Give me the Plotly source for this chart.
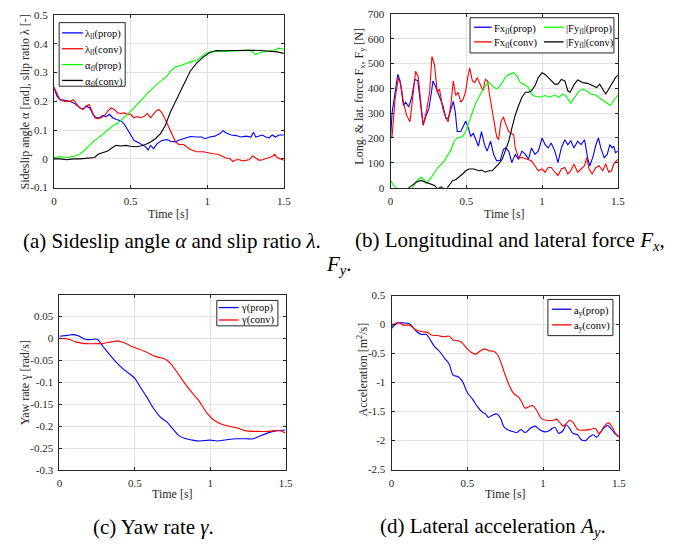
import plotly.graph_objects as go

W, H = 683, 549
FONT = "Liberation Serif, Times New Roman, Times, serif"
INK = "#262626"
GRID = "#e2e2e2"

# ---------------- (a) slip ratio / sideslip angle ----------------
t_lam_prop = [0, 0.019, 0.04, 0.073, 0.105, 0.137, 0.17, 0.19, 0.212, 0.234, 0.255, 0.276, 0.298, 0.32, 0.34,
              0.362, 0.384, 0.405, 0.437, 0.459, 0.48, 0.5, 0.523, 0.544, 0.566, 0.598, 0.615, 0.63, 0.651, 0.673,
              0.705, 0.737, 0.76, 0.792, 0.814, 0.846, 0.889, 0.931, 0.964, 0.985, 1.017, 1.049, 1.081, 1.103,
              1.124, 1.157, 1.189, 1.221, 1.253, 1.285, 1.302, 1.317, 1.339, 1.36, 1.381, 1.403, 1.424, 1.446,
              1.467, 1.5]
lam_prop = [0.249, 0.219, 0.206, 0.203, 0.2, 0.192, 0.177, 0.174, 0.183, 0.177, 0.155, 0.143, 0.143, 0.151, 0.147,
            0.155, 0.143, 0.138, 0.132, 0.121, 0.102, 0.081, 0.064, 0.059, 0.053, 0.042, 0.031, 0.047, 0.036, 0.053,
            0.064, 0.067, 0.061, 0.059, 0.065, 0.07, 0.078, 0.076, 0.076, 0.07, 0.076, 0.079, 0.087, 0.098,
            0.09, 0.083, 0.081, 0.076, 0.079, 0.076, 0.093, 0.076, 0.081, 0.083, 0.076, 0.073, 0.083, 0.076,
            0.083, 0.083]

t_lam_conv = [0, 0.019, 0.04, 0.073, 0.105, 0.126, 0.148, 0.17, 0.19, 0.212, 0.23, 0.244, 0.266, 0.287, 0.309,
              0.33, 0.351, 0.373, 0.394, 0.416, 0.437, 0.459, 0.48, 0.5, 0.523, 0.544, 0.566, 0.587, 0.609, 0.63,
              0.651, 0.666, 0.684, 0.705, 0.728, 0.76, 0.792, 0.814, 0.846, 0.889, 0.931, 0.974, 1.007, 1.039,
              1.071, 1.103, 1.124, 1.146, 1.167, 1.189, 1.21, 1.232, 1.253, 1.274, 1.296, 1.317, 1.339, 1.36,
              1.381, 1.403, 1.424, 1.439, 1.456, 1.478, 1.5]
lam_conv = [0.249, 0.228, 0.206, 0.2, 0.2, 0.206, 0.192, 0.177, 0.172, 0.185, 0.189, 0.172, 0.143, 0.14, 0.143,
            0.151, 0.166, 0.177, 0.172, 0.16, 0.158, 0.16, 0.155, 0.155, 0.143, 0.147, 0.143, 0.147, 0.158, 0.143,
            0.155, 0.166, 0.172, 0.16, 0.135, 0.095, 0.061, 0.05, 0.05, 0.033, 0.025, 0.025, 0.021, 0.018,
            0.016, 0.008, 0.002, 0.002, -0.009, -0.003, -0.003, -0.007, -0.005, -0.003, 0.01, 0.002, -0.005, -0.003,
            0.0, 0.005, 0.008, 0.016, 0.005, 0.0, -0.005]

t_alpha_prop = [0, 0.04, 0.084, 0.126, 0.159, 0.19, 0.223, 0.255, 0.287, 0.32, 0.351, 0.384, 0.416, 0.448, 0.48,
                0.512, 0.544, 0.576, 0.609, 0.64, 0.673, 0.705, 0.737, 0.76, 0.792, 0.824, 0.857, 0.9, 0.931,
                0.964, 0.996, 1.028, 1.06, 1.103, 1.146, 1.189, 1.232, 1.274, 1.296, 1.317, 1.339, 1.371, 1.403,
                1.435, 1.467, 1.5]
alpha_prop = [0.005, 0.008, 0.005, 0.008, 0.014, 0.025, 0.042, 0.059, 0.072, 0.087, 0.102, 0.115, 0.124, 0.138,
              0.155, 0.172, 0.189, 0.208, 0.228, 0.245, 0.26, 0.274, 0.287, 0.304, 0.32, 0.324, 0.331, 0.339,
              0.342, 0.356, 0.368, 0.372, 0.374, 0.374, 0.375, 0.374, 0.376, 0.378, 0.373, 0.362, 0.37, 0.372,
              0.375, 0.377, 0.385, 0.381]

t_alpha_conv = [0, 0.04, 0.084, 0.126, 0.17, 0.212, 0.244, 0.266, 0.287, 0.32, 0.351, 0.373, 0.405, 0.437, 0.469,
                0.5, 0.533, 0.566, 0.598, 0.63, 0.662, 0.694, 0.726, 0.76, 0.792, 0.824, 0.857, 0.889, 0.931,
                0.974, 1.017, 1.06, 1.103, 1.157, 1.221, 1.285, 1.35, 1.403, 1.456, 1.5]
alpha_conv = [0.0, 0.0, -0.003, 0.0, 0.0, 0.002, 0.002, 0.005, 0.016, 0.023, 0.027, 0.036, 0.047, 0.045, 0.047,
              0.044, 0.042, 0.045, 0.05, 0.059, 0.07, 0.087, 0.115, 0.163, 0.197, 0.234, 0.271, 0.305, 0.333,
              0.354, 0.37, 0.377, 0.376, 0.377, 0.377, 0.378, 0.377, 0.375, 0.372, 0.367]

# ---------------- (b) longitudinal / lateral force ----------------
t_fx_prop = [0, 0.01, 0.03, 0.048, 0.063, 0.085, 0.1, 0.12, 0.14, 0.16, 0.18, 0.2, 0.215, 0.236, 0.253, 0.27,
             0.28, 0.3, 0.32, 0.345, 0.366, 0.38, 0.4, 0.414, 0.427, 0.44, 0.464, 0.485, 0.496, 0.51, 0.53, 0.546,
             0.56, 0.58, 0.6, 0.62, 0.637, 0.66, 0.68, 0.7, 0.724, 0.745, 0.758, 0.78, 0.8, 0.823, 0.845, 0.867,
             0.89, 0.91, 0.93, 0.953, 0.975, 1.0, 1.02, 1.04, 1.06, 1.084, 1.105, 1.127, 1.15, 1.17, 1.19, 1.21,
             1.235, 1.257, 1.28, 1.3, 1.315, 1.337, 1.355, 1.372, 1.387, 1.41, 1.43, 1.447, 1.462, 1.473, 1.484,
             1.5]
fx_prop = [200, 300, 384, 456, 430, 331, 344, 325, 364, 436, 430, 331, 252, 292, 318, 384,
           430, 403, 371, 331, 279, 279, 318, 347, 305, 226, 226, 252, 268, 246, 206, 219,
           200, 167, 226, 173, 147, 187, 134, 108, 110, 154, 160, 147, 101, 134, 114, 147,
           134, 114, 160, 134, 147, 200, 173, 160, 180, 147, 101, 160, 193, 173, 189, 160,
           187, 173, 193, 121, 88, 127, 173, 200, 160, 121, 134, 173, 160, 167, 141,
           147]

t_fx_conv = [0, 0.01, 0.03, 0.052, 0.07, 0.085, 0.106, 0.128, 0.143, 0.165, 0.182, 0.2, 0.215, 0.236, 0.258,
             0.273, 0.29, 0.308, 0.323, 0.345, 0.366, 0.38, 0.4, 0.414, 0.43, 0.446, 0.464, 0.48, 0.496, 0.507,
             0.522, 0.54, 0.555, 0.572, 0.594, 0.61, 0.626, 0.64, 0.654, 0.67, 0.685, 0.7, 0.713, 0.728, 0.745,
             0.758, 0.78, 0.795, 0.813, 0.823, 0.845, 0.867, 0.9, 0.93, 0.953, 0.975, 1.0, 1.02, 1.04, 1.06,
             1.084, 1.105, 1.127, 1.15, 1.17, 1.19, 1.21, 1.235, 1.257, 1.28, 1.294, 1.31, 1.33, 1.355, 1.376,
             1.4, 1.42, 1.44, 1.458, 1.473, 1.49, 1.5]
fx_conv = [200, 206, 357, 443, 410, 344, 292, 265, 344, 469, 449, 331, 252, 305, 384,
           528, 495, 384, 397, 318, 279, 265, 344, 430, 371, 384, 344, 357, 390, 436,
           482, 430, 423, 443, 410, 390, 436, 430, 371, 318, 252, 206, 193, 265, 285,
           259, 226, 219, 213, 160, 121, 121, 114, 108, 88, 68, 75, 62, 81, 81,
           62, 49, 75, 81, 55, 68, 95, 62, 75, 88, 121, 75, 55, 81, 88,
           68, 95, 62, 68, 95, 108, 114]

t_fy_prop = [0, 0.02, 0.035, 0.06, 0.1, 0.13, 0.15, 0.17, 0.2, 0.22, 0.236, 0.27, 0.312, 0.355, 0.4, 0.42, 0.44,
             0.475, 0.496, 0.518, 0.54, 0.56, 0.594, 0.626, 0.648, 0.67, 0.7, 0.724, 0.756, 0.78, 0.813, 0.834,
             0.856, 0.878, 0.91, 0.93, 0.953, 0.986, 1.02, 1.05, 1.083, 1.11, 1.138, 1.16, 1.187, 1.213, 1.246,
             1.268, 1.294, 1.322, 1.355, 1.387, 1.42, 1.452, 1.473, 1.5]
fy_prop = [29, 9, 0, -15, -20, -10, 3, 26, 42, 32, 16, 42, 81, 108, 154, 187, 200,
           206, 226, 265, 305, 338, 377, 410, 426, 410, 397, 410, 443, 456, 463, 449,
           423, 417, 403, 377, 368, 364, 371, 364, 373, 364, 377, 368, 340, 364, 390,
           397, 390, 377, 373, 357, 344, 331, 351, 373]

t_fy_conv = [0, 0.05, 0.1, 0.128, 0.17, 0.2, 0.236, 0.27, 0.29, 0.31, 0.334, 0.366, 0.388, 0.41, 0.43, 0.453,
             0.475, 0.496, 0.518, 0.55, 0.583, 0.6, 0.626, 0.648, 0.67, 0.69, 0.713, 0.737, 0.758, 0.78, 0.8,
             0.823, 0.845, 0.867, 0.89, 0.91, 0.93, 0.953, 0.975, 1.0, 1.02, 1.04, 1.06, 1.084, 1.105, 1.127,
             1.15, 1.17, 1.185, 1.213, 1.235, 1.268, 1.3, 1.33, 1.36, 1.38, 1.398, 1.42, 1.44, 1.462, 1.484, 1.5]
fy_conv = [-20, -25, -10, 3, 22, 29, 22, 13, 9, -4, 3, -8, 9, 29, 32, 42,
           55, 68, 75, 75, 68, 71, 62, 68, 68, 81, 95, 114, 147, 187, 239,
           292, 331, 364, 384, 384, 390, 410, 443, 463, 456, 443, 430, 417, 417, 436,
           430, 390, 384, 417, 434, 423, 420, 410, 403, 417, 397, 377, 397, 423, 443, 452]

# ---------------- (c) yaw rate ----------------
t_gamma_prop = [0, 0.052, 0.095, 0.128, 0.17, 0.214, 0.25, 0.29, 0.333, 0.376, 0.42, 0.462, 0.5, 0.538, 0.58,
                0.625, 0.668, 0.71, 0.754, 0.797, 0.84, 0.884, 0.927, 1.0, 1.046, 1.11, 1.176, 1.24, 1.284, 1.327,
                1.38, 1.435, 1.5]
gamma_prop = [0.005, 0.007, 0.0085, 0.0055, -0.002, -0.0026, -0.002, -0.019, -0.037, -0.054, -0.069, -0.08,
              -0.091, -0.112, -0.134, -0.16, -0.179, -0.19, -0.207, -0.223, -0.229, -0.232, -0.234, -0.232, -0.234,
              -0.231, -0.229, -0.229, -0.229, -0.223, -0.216, -0.211, -0.209]

t_gamma_conv = [0, 0.063, 0.106, 0.17, 0.246, 0.29, 0.344, 0.387, 0.43, 0.484, 0.527, 0.58, 0.635, 0.7, 0.733,
                0.776, 0.82, 0.873, 0.927, 0.98, 1.024, 1.077, 1.133, 1.186, 1.24, 1.305, 1.39, 1.456, 1.5]
gamma_conv = [0.0, -0.002, -0.008, -0.012, -0.012, -0.0115, -0.008, -0.0056, -0.01, -0.019, -0.024, -0.032,
              -0.041, -0.047, -0.056, -0.075, -0.097, -0.121, -0.143, -0.171, -0.186, -0.196, -0.201, -0.205,
              -0.211, -0.212, -0.212, -0.21, -0.216]

# ---------------- (d) lateral acceleration ----------------
t_ay_prop = [0, 0.024, 0.045, 0.078, 0.115, 0.132, 0.165, 0.197, 0.23, 0.25, 0.284, 0.316, 0.35, 0.38, 0.407,
             0.44, 0.468, 0.5, 0.533, 0.566, 0.598, 0.62, 0.64, 0.663, 0.696, 0.72, 0.741, 0.763, 0.795, 0.828,
             0.854, 0.882, 0.915, 0.947, 0.976, 1.013, 1.045, 1.077, 1.105, 1.131, 1.153, 1.175, 1.197, 1.229,
             1.25, 1.28, 1.305, 1.33, 1.355, 1.374, 1.402, 1.425, 1.446, 1.468, 1.5]
ay_prop = [-0.068, 0.0, 0.028, 0.028, 0.02, -0.02, -0.12, -0.17, -0.17, -0.24, -0.38, -0.46, -0.58, -0.68, -0.87,
           -0.9, -0.98, -1.17, -1.28, -1.41, -1.51, -1.54, -1.6, -1.565, -1.54, -1.62, -1.76, -1.81, -1.84, -1.86,
           -1.81, -1.86, -1.79, -1.75, -1.81, -1.85, -1.82, -1.77, -1.875, -1.83, -1.73, -1.79, -1.875, -1.9,
           -1.98, -2.0, -1.94, -1.9, -1.94, -1.875, -1.78, -1.74, -1.79, -1.86, -1.93]

t_ay_conv = [0, 0.024, 0.045, 0.078, 0.12, 0.154, 0.197, 0.236, 0.262, 0.305, 0.345, 0.38, 0.407, 0.44, 0.468,
             0.5, 0.527, 0.555, 0.583, 0.613, 0.64, 0.674, 0.7, 0.72, 0.741, 0.774, 0.806, 0.838, 0.86, 0.882,
             0.904, 0.93, 0.958, 0.99, 1.022, 1.066, 1.087, 1.113, 1.131, 1.153, 1.175, 1.197, 1.229, 1.26,
             1.305, 1.344, 1.37, 1.402, 1.43, 1.455, 1.477, 1.5]
ay_conv = [-0.02, 0.017, 0.034, -0.01, -0.01, -0.08, -0.12, -0.135, -0.18, -0.19, -0.21, -0.2, -0.265, -0.28, -0.32,
           -0.42, -0.48, -0.51, -0.46, -0.42, -0.45, -0.46, -0.52, -0.64, -0.8, -1.03, -1.19, -1.25, -1.34, -1.44,
           -1.42, -1.395, -1.48, -1.62, -1.65, -1.65, -1.63, -1.695, -1.75, -1.71, -1.65, -1.68, -1.81, -1.82,
           -1.81, -1.79, -1.875, -1.76, -1.695, -1.76, -1.875, -1.94]

# ---------------- labels / ticks ----------------
x_ticks = [0, 0.5, 1, 1.5]
x_ticktext = ["0", "0.5", "1", "1.5"]
a_yticks = [-0.1, 0, 0.1, 0.2, 0.3, 0.4, 0.5]
a_ytext = ["-0.1", "0", "0.1", "0.2", "0.3", "0.4", "0.5"]
b_yticks = [0, 100, 200, 300, 400, 500, 600, 700]
b_ytext = [str(v) for v in b_yticks]
c_yticks = [-0.3, -0.25, -0.2, -0.15, -0.1, -0.05, 0, 0.05]
c_ytext = ["-0.3", "-0.25", "-0.2", "-0.15", "-0.1", "-0.05", "0", "0.05"]
d_yticks = [-2.5, -2, -1.5, -1, -0.5, 0, 0.5]
d_ytext = ["-2.5", "-2", "-1.5", "-1", "-0.5", "0", "0.5"]

names_a = ["λ<sub>fl</sub>(prop)", "λ<sub>fl</sub>(conv)", "α<sub>fl</sub>(prop)", "α<sub>fl</sub>(conv)"]
names_b = ["Fx<sub>fl</sub>(prop)", "Fx<sub>fl</sub>(conv)", "|Fy<sub>fl</sub>|(prop)", "|Fy<sub>fl</sub>|(conv)"]
names_c = ["γ(prop)", "γ(conv)"]
names_d = ["a<sub>y</sub>(prop)", "a<sub>y</sub>(conv)"]

BLUE, RED, GREEN, BLACK = "#0000ff", "#ff0000", "#00ff00", "#000000"


def px(x):
    return x / W


def py(y):
    return 1 - y / H


fig = go.Figure()


def add_line(t, v, color, name, ax, shape="linear"):
    fig.add_trace(go.Scatter(x=t, y=v, mode="lines", name=name, line=dict(color=color, width=1.1, shape=shape),
                             xaxis="x" + ax, yaxis="y" + ax, showlegend=False, hoverinfo="skip"))


add_line(t_lam_prop, lam_prop, BLUE, names_a[0], "")
add_line(t_lam_conv, lam_conv, RED, names_a[1], "")
add_line(t_alpha_prop, alpha_prop, GREEN, names_a[2], "")
add_line(t_alpha_conv, alpha_conv, BLACK, names_a[3], "")

add_line(t_fx_prop, fx_prop, BLUE, names_b[0], "2")
add_line(t_fx_conv, fx_conv, RED, names_b[1], "2")
add_line(t_fy_prop, fy_prop, GREEN, names_b[2], "2")
add_line(t_fy_conv, fy_conv, BLACK, names_b[3], "2")

add_line(t_gamma_prop, gamma_prop, BLUE, names_c[0], "3", "spline")
add_line(t_gamma_conv, gamma_conv, RED, names_c[1], "3", "spline")

add_line(t_ay_prop, ay_prop, BLUE, names_d[0], "4", "spline")
add_line(t_ay_conv, ay_conv, RED, names_d[1], "4", "spline")


def axis_style(domain, rng, tickvals, ticktext, anchor):
    return dict(domain=domain, range=rng, tickvals=tickvals, ticktext=ticktext, anchor=anchor,
                showline=True, linecolor=INK, linewidth=1, mirror="ticks", ticks="inside", ticklen=3,
                tickcolor=INK, tickwidth=1, showgrid=True, gridcolor=GRID, gridwidth=1, zeroline=False,
                tickfont=dict(family=FONT, size=11, color=INK), ticklabelstandoff=3, fixedrange=True)


fig.update_layout(
    width=W, height=H, margin=dict(l=0, r=0, t=0, b=0), paper_bgcolor="white", plot_bgcolor="white",
    showlegend=False, font=dict(family=FONT),
    xaxis=axis_style([px(51.7), px(285)], [0, 1.5], x_ticks, x_ticktext, "y"),
    yaxis=axis_style([py(185.7), py(9.3)], [-0.1, 0.5], a_yticks, a_ytext, "x"),
    xaxis2=axis_style([px(393.3), px(624)], [0, 1.5], x_ticks, x_ticktext, "y2"),
    yaxis2=axis_style([py(185.7), py(8)], [0, 700], b_yticks, b_ytext, "x2"),
    xaxis3=axis_style([px(57.3), px(286.7)], [0, 1.5], x_ticks, x_ticktext, "y3"),
    yaxis3=axis_style([py(474.3), py(295)], [-0.3, 0.1], c_yticks, c_ytext, "x3"),
    xaxis4=axis_style([px(394.3), px(625)], [0, 1.5], x_ticks, x_ticktext, "y4"),
    yaxis4=axis_style([py(474), py(296)], [-2.5, 0.5], d_yticks, d_ytext, "x4"),
)


def text(x, y, s, size, angle=0, xanchor="center", yanchor="middle", color=INK):
    fig.add_annotation(xref="paper", yref="paper", x=px(x), y=py(y), text=s, showarrow=False, textangle=angle,
                       xanchor=xanchor, yanchor=yanchor, font=dict(family=FONT, size=size, color=color),
                       borderpad=0)


# axis titles
text(168, 213, "Time [s]", 12)
text(509, 213, "Time [s]", 12)
text(172, 499, "Time [s]", 12)
text(510, 499, "Time [s]", 12)
text(22, 98, "Sideslip angle α [rad], slip ratio λ [-]", 12, -90)
text(362, 92, "Long. &amp; lat. force F<sub>x</sub>, F<sub>y</sub> [N]", 12, -90)
text(22, 385, "Yaw rate γ [rad/s]", 12, -90)
text(365, 372, "Acceleration [m<sup>2</sup>/s]", 12, -90)

# captions
CAP = 21
text(172, 240, "(a) Sideslip angle <i>α</i> and slip ratio <i>λ</i>.", CAP, color="black")
text(515, 240, "(b) Longitudinal and lateral force <i>F<sub>x</sub></i>,", CAP, color="black")
text(341, 265, "<i>F<sub>y</sub></i>.", CAP, color="black")
text(153, 533, "(c) Yaw rate <i>γ</i>.", CAP, color="black")
text(497, 533, "(d) Lateral acceleration <i>A<sub>y</sub></i>.", CAP, color="black")


# legends (drawn as boxes + sample lines + labels)
def legend_box(x0, y0, x1, y1):
    fig.add_shape(type="rect", xref="paper", yref="paper", x0=px(x0), x1=px(x1), y0=py(y1), y1=py(y0),
                  fillcolor="white", line=dict(color=INK, width=1), layer="above")


def legend_item(xs0, xs1, yrow, color, label, dy=0):
    fig.add_shape(type="line", xref="paper", yref="paper", x0=px(xs0), x1=px(xs1), y0=py(yrow), y1=py(yrow),
                  line=dict(color=color, width=1.3), layer="above")
    text(xs1 + 1.5, yrow + dy, label, 10.5, xanchor="left", color="black")


legend_box(57, 17, 124, 82)
for i, (c, n) in enumerate(zip([BLUE, RED, GREEN, BLACK], names_a)):
    legend_item(60, 81, 27.5 + 16.2 * i, c, n, 2)

legend_box(474, 12, 620, 48)
legend_item(478, 496, 21.7, BLUE, names_b[0], 2)
legend_item(478, 496, 36.7, RED, names_b[1], 2)
legend_item(549, 569, 21.7, GREEN, names_b[2], 2)
legend_item(549, 569, 36.7, BLACK, names_b[3], 2)

legend_box(217, 301, 279, 327)
legend_item(219, 239, 308.3, BLUE, names_c[0])
legend_item(219, 239, 321, RED, names_c[1])

legend_box(553, 300, 619, 337)
legend_item(557, 577, 310, BLUE, names_d[0], 2)
legend_item(557, 577, 326, RED, names_d[1], 2)

fig.write_html("out.html")
